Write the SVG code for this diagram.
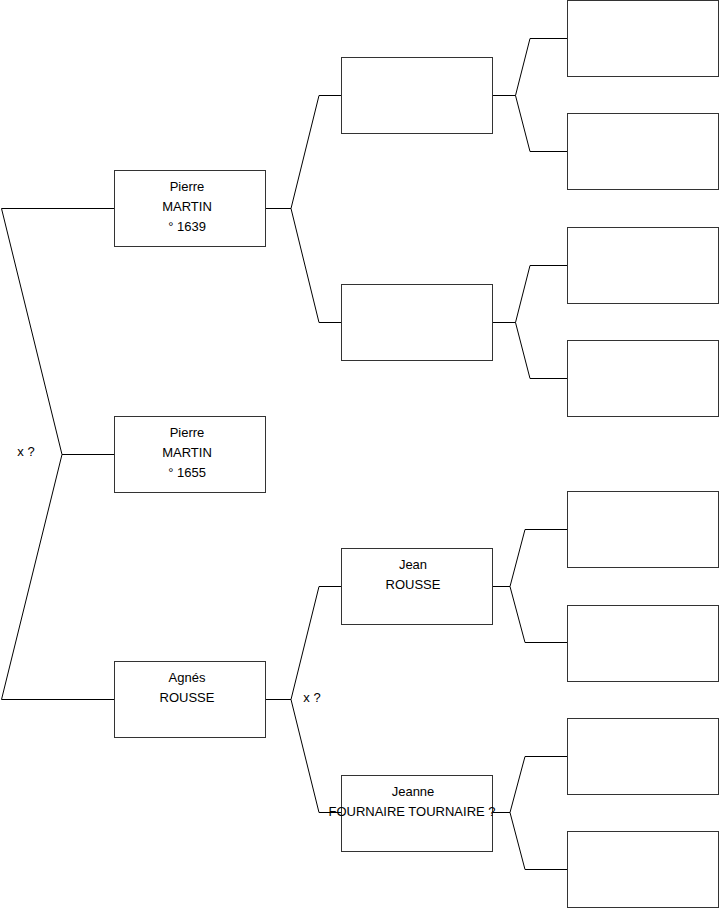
<svg xmlns="http://www.w3.org/2000/svg" width="719" height="908" viewBox="0 0 719 908">
<style>
.box{fill:#fff;stroke:#333;stroke-width:1}
.ln{fill:none;stroke:#000;stroke-width:1}
text{font-family:"Liberation Sans",Arial,sans-serif;font-size:13px;fill:#000;text-anchor:middle}
</style>
<rect width="719" height="908" fill="#fff"/>
<g id="connectors">
<path class="ln" d="M114,208.5H1.5L62,454.5L1.5,699.5H114M62,454.5H114"/>
<path class="ln" d="M265,208.5H291L319,95.5H341M291,208.5L319,322.5H341"/>
<path class="ln" d="M265,699.5H291L319,586.5H341M291,699.5L319,812.5H341"/>
<path class="ln" d="M492,95.5H515.5L530,38.5H567M515.5,95.5L530,151.5H567"/>
<path class="ln" d="M492,322.5H515.5L530,265.5H567M515.5,322.5L530,378.5H567"/>
<path class="ln" d="M492,586.5H510L525,529.5H567M510,586.5L525,642.5H567"/>
<path class="ln" d="M492,812.5H510L525,756.5H567M510,812.5L525,869.5H567"/>
<text x="26" y="456">x ?</text>
<text x="312" y="702">x ?</text>
</g>
<g id="n1"><rect class="box" x="114.5" y="170.5" width="151" height="76"/><text x="187" y="191">Pierre</text><text x="187" y="211">MARTIN</text><text x="187" y="231">° 1639</text></g>
<g id="n0"><rect class="box" x="114.5" y="416.5" width="151" height="76"/><text x="187" y="437">Pierre</text><text x="187" y="457">MARTIN</text><text x="187" y="477">° 1655</text></g>
<g id="n2"><rect class="box" x="114.5" y="661.5" width="151" height="76"/><text x="187" y="682">Agnés</text><text x="187" y="702">ROUSSE</text></g>
<g id="n3"><rect class="box" x="341.5" y="57.5" width="151" height="76"/></g>
<g id="n4"><rect class="box" x="341.5" y="284.5" width="151" height="76"/></g>
<g id="n5"><rect class="box" x="341.5" y="548.5" width="151" height="76"/><text x="413" y="569">Jean</text><text x="413" y="589">ROUSSE</text></g>
<g id="n6"><rect class="box" x="341.5" y="775.5" width="151" height="76"/><text x="413" y="796">Jeanne</text><text x="412" y="816">FOURNAIRE TOURNAIRE ?</text></g>
<g id="n7"><rect class="box" x="567.5" y="0.5" width="151" height="76"/></g>
<g id="n8"><rect class="box" x="567.5" y="113.5" width="151" height="76"/></g>
<g id="n9"><rect class="box" x="567.5" y="227.5" width="151" height="76"/></g>
<g id="n10"><rect class="box" x="567.5" y="340.5" width="151" height="76"/></g>
<g id="n11"><rect class="box" x="567.5" y="491.5" width="151" height="76"/></g>
<g id="n12"><rect class="box" x="567.5" y="605.5" width="151" height="76"/></g>
<g id="n13"><rect class="box" x="567.5" y="718.5" width="151" height="76"/></g>
<g id="n14"><rect class="box" x="567.5" y="831.5" width="151" height="76"/></g>
</svg>
